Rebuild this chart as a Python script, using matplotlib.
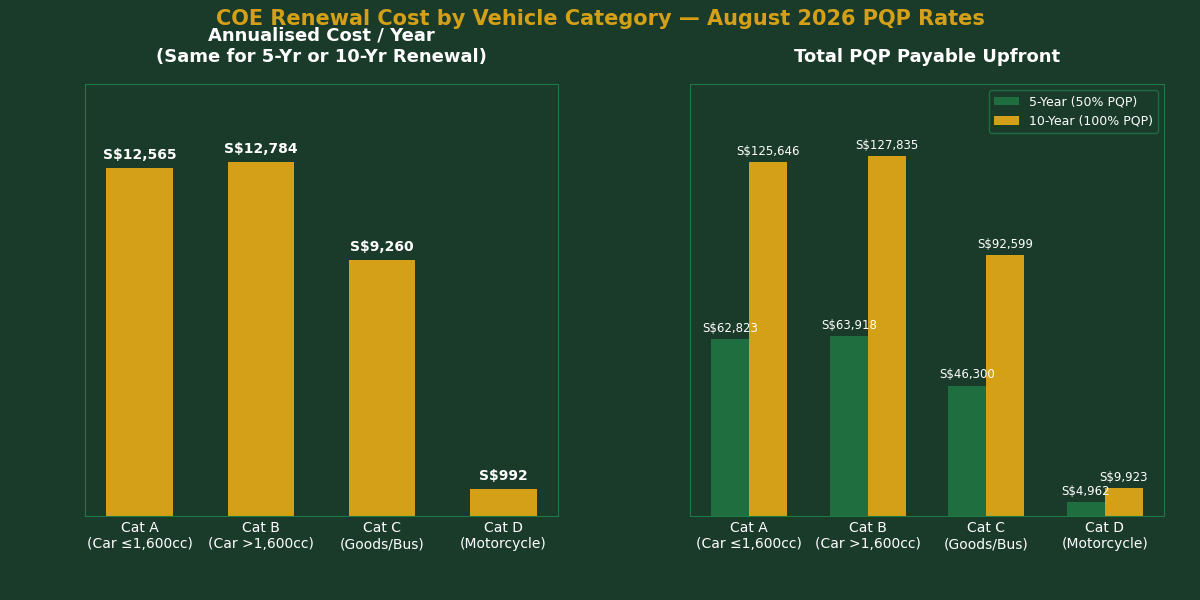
import matplotlib
matplotlib.use("Agg")
import matplotlib.pyplot as plt
import numpy as np

plt.rcParams['font.family'] = ['DejaVu Sans']
cats = ["Cat A\n(Car ≤1,600cc)", "Cat B\n(Car >1,600cc)", "Cat C\n(Goods/Bus)", "Cat D\n(Motorcycle)"]
annual = [12565, 12784, 9260, 992]
five_yr = [62823, 63918, 46300, 4962]
ten_yr = [125646, 127835, 92599, 9923]

BG = "#1a3a2a"; GOLD = "#d4a017"; GREEN = "#1e6e40"; SP = "#1e7a45"
fig = plt.figure(figsize=(12, 6), dpi=100, facecolor=BG)
ax1 = fig.add_axes([85/1200, 84/600, 473/1200, 432/600])
ax2 = fig.add_axes([690/1200, 84/600, 474/1200, 432/600])
ax1.set_position([85/1200, 1-516/600, 473/1200, 432/600])
ax2.set_position([690/1200, 1-516/600, 474/1200, 432/600])
for ax in (ax1, ax2):
    ax.set_facecolor(BG)
    for s in ax.spines.values():
        s.set_color(SP)
    ax.set_yticks([])
    ax.tick_params(axis='x', colors='white', labelsize=10, length=0)
x = np.arange(len(cats))
ax1.bar(x, annual, width=0.55, color=GOLD)
ax1.set_ylim(0, max(annual)*1.22)
for xi, v in zip(x, annual):
    ax1.text(xi, v + 200, f"S${v:,}", ha='center', va='bottom', color='white', fontsize=10, fontweight='bold')
ax1.set_xticks(x, cats)
ax1.set_xlim(-0.45, 3.45)
ax1.set_title("Annualised Cost / Year\n(Same for 5-Yr or 10-Yr Renewal)", color='white', fontsize=13, fontweight='bold', pad=16)

w = 0.32
ax2.bar(x - w/2, five_yr, width=w, color=GREEN, label="5-Year (50% PQP)")
ax2.bar(x + w/2, ten_yr, width=w, color=GOLD, label="10-Year (100% PQP)")
ax2.set_ylim(0, max(ten_yr)*1.2)
for xi, v in zip(x, five_yr):
    ax2.text(xi - w/2, v + 1500, f"S${v:,}", ha='center', va='bottom', color='white', fontsize=8.5)
for xi, v in zip(x, ten_yr):
    ax2.text(xi + w/2, v + 1500, f"S${v:,}", ha='center', va='bottom', color='white', fontsize=8.5)
ax2.set_xticks(x, cats)
ax2.set_xlim(-0.5, 3.5)
ax2.set_title("Total PQP Payable Upfront", color='white', fontsize=13, fontweight='bold', pad=16)
leg = ax2.legend(loc='upper right', facecolor=BG, edgecolor=SP, fontsize=9)
for t in leg.get_texts():
    t.set_color('white')
fig.suptitle("COE Renewal Cost by Vehicle Category — August 2026 PQP Rates", color=GOLD, fontsize=15, fontweight='bold', y=0.985)
fig.savefig("out.png", facecolor=BG)
